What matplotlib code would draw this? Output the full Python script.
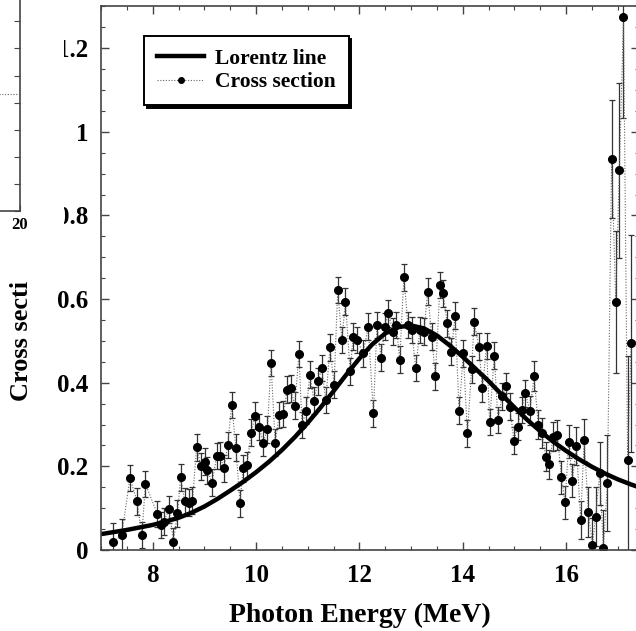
import matplotlib.pyplot as plt
from matplotlib.lines import Line2D
from matplotlib.patches import Rectangle
from matplotlib.ticker import MultipleLocator

#Lorentz fit
fit_energy = [7.0, 7.25, 7.5, 7.75, 8.0, 8.25, 8.5, 8.75, 9.0, 9.25, 9.5, 9.75,
              10.0, 10.25, 10.5, 10.75, 11.0, 11.25, 11.5, 11.75, 12.0, 12.25, 12.5,
              12.75, 13.0, 13.25, 13.5, 13.75, 14.0, 14.25, 14.5, 14.75, 15.0, 15.25,
              15.5, 15.75, 16.0, 16.25, 16.5, 16.75, 17.0, 17.25, 17.41]
fit_cross = [0.038, 0.043, 0.048, 0.054, 0.060, 0.068, 0.077, 0.089, 0.104, 0.122,
             0.142, 0.163, 0.186, 0.211, 0.239, 0.270, 0.304, 0.341, 0.380, 0.420,
             0.458, 0.492, 0.518, 0.533, 0.537, 0.530, 0.513, 0.489, 0.462, 0.433,
             0.404, 0.372, 0.341, 0.311, 0.284, 0.259, 0.237, 0.217, 0.199, 0.183,
             0.169, 0.157, 0.150]

#Measured cross section with errors
energy = [7.24, 7.40, 7.56, 7.70, 7.79, 7.86, 8.09, 8.17, 8.21, 8.32, 8.40, 8.48,
          8.54, 8.62, 8.71, 8.77, 8.85, 8.93, 9.01, 9.06, 9.15, 9.24, 9.30, 9.38,
          9.45, 9.53, 9.61, 9.69, 9.75, 9.82, 9.91, 9.98, 10.06, 10.14, 10.22, 10.29,
          10.37, 10.45, 10.53, 10.60, 10.67, 10.75, 10.83, 10.89, 10.97, 11.04, 11.12,
          11.20, 11.27, 11.35, 11.43, 11.51, 11.58, 11.66, 11.73, 11.82, 11.88, 11.96,
          12.07, 12.17, 12.27, 12.34, 12.42, 12.49, 12.56, 12.65, 12.71, 12.78, 12.86,
          12.94, 13.01, 13.09, 13.17, 13.25, 13.32, 13.40, 13.47, 13.56, 13.62, 13.70,
          13.78, 13.85, 13.93, 14.01, 14.09, 14.17, 14.22, 14.31, 14.38, 14.46, 14.52,
          14.61, 14.68, 14.76, 14.83, 14.91, 14.99, 15.06, 15.14, 15.21, 15.30, 15.38,
          15.46, 15.53, 15.61, 15.67, 15.75, 15.83, 15.91, 15.98, 16.05, 16.12, 16.20,
          16.28, 16.35, 16.43, 16.51, 16.57, 16.65, 16.72, 16.80, 16.88, 16.96, 17.03,
          17.11, 17.19, 17.26]
cross = [0.020, 0.035, 0.172, 0.116, 0.036, 0.158, 0.086, 0.060, 0.068, 0.097, 0.020, 0.088,
         0.174, 0.116, 0.113, 0.118, 0.246, 0.200, 0.211, 0.191, 0.161, 0.225, 0.226, 0.195,
         0.251, 0.347, 0.245, 0.112, 0.195, 0.203, 0.281, 0.321, 0.294, 0.257, 0.289, 0.447,
         0.257, 0.323, 0.325, 0.383, 0.387, 0.345, 0.469, 0.299, 0.333, 0.419, 0.357,
         0.403, 0.435, 0.359, 0.485, 0.395, 0.622, 0.502, 0.594, 0.427, 0.510, 0.502,
         0.470, 0.534, 0.327, 0.538, 0.460, 0.534, 0.566, 0.522, 0.538, 0.455, 0.652,
         0.538, 0.526, 0.435, 0.526, 0.522, 0.618, 0.510, 0.415, 0.634, 0.614, 0.542,
         0.474, 0.560, 0.333, 0.470, 0.279, 0.432, 0.546, 0.486, 0.387, 0.488, 0.306,
         0.465, 0.311, 0.368, 0.392, 0.343, 0.261, 0.295, 0.335, 0.375, 0.333, 0.416,
         0.300, 0.280, 0.223, 0.205, 0.271, 0.275, 0.174, 0.114, 0.259, 0.166, 0.249,
         0.072, 0.263, 0.090, 0.012, 0.080, 0.183, 0.005, 0.160, 0.935, 0.594, 0.908,
         1.274, 0.215, 0.494]
cross_err = [0.045, 0.040] + [0.032]*98 + [0.035]*8 + [0.040, 0.040, 0.040, 0.040, 0.045,
             0.045, 0.050, 0.060, 0.065, 0.070, 0.076, 0.090, 0.115, 0.140, 0.170,
             0.210, 0.240, 0.250, 0.260]

xticks = [8, 10, 12, 14, 16]
yticks = [0, 0.2, 0.4, 0.6, 0.8, 1.0, 1.2]
ytick_labels = ['0', '0.2', '0.4', '0.6', '0.8', '1', '1.2']

plt.rcParams['font.family'] = ['Liberation Serif', 'DejaVu Serif']
plt.rcParams['font.weight'] = 'bold'

W, H = 636, 631
fig = plt.figure(figsize=(W/100, H/100), dpi=100)

#pixel box -> figure coords
def box(x0, y0, x1, y1):
    return [x0/W, 1-y1/H, (x1-x0)/W, (y1-y0)/H]

ax = fig.add_axes(box(101, 6, 639, 550))
ax.errorbar(energy, cross, yerr=cross_err, fmt='none', ecolor='#333',
            elinewidth=0.9, capsize=2.5, capthick=0.9)
ax.plot(energy, cross, linestyle=(0, (1, 1.5)), color='#666', lw=0.8)
ax.plot(energy, cross, 'o', color='k', ms=5.5)
ax.plot(fit_energy, fit_cross, '-k', lw=3.2, solid_capstyle='round')

ax.set_xlim(7, 17.41)
ax.set_ylim(0, 1.301)
ax.set_xticks(xticks)
ax.set_xticklabels([str(t) for t in xticks])
ax.set_yticks(yticks)
ax.set_yticklabels(ytick_labels)
ax.xaxis.set_minor_locator(MultipleLocator(0.5))
ax.yaxis.set_minor_locator(MultipleLocator(0.05))
ax.tick_params(which='both', direction='in', top=True, right=True, color='#444',
               labelsize=18)
ax.tick_params(which='major', length=6, width=1.0)
ax.tick_params(which='minor', length=3, width=0.8)
ax.tick_params(axis='y', pad=9)
ax.tick_params(axis='x', pad=10)
for s in ax.spines.values():
    s.set_color('#444')
    s.set_linewidth(1.2)

fig.text(360/W, 1-622/H, 'Photon Energy (MeV)', ha='center', va='baseline',
         fontsize=20, fontweight='bold')
fig.text(22/W, 1-401/H, 'Cross secti', rotation=90, ha='center', va='bottom',
         fontsize=19, fontweight='bold')

#Legend with shadow
handles = [Line2D([], [], color='k', lw=3.2),
           Line2D([], [], color='#666', lw=0.8, linestyle=(0, (1, 1.5)),
                  marker='o', ms=4, mfc='k', mec='k')]
leg = ax.legend(handles, ['Lorentz line', 'Cross section'], loc='upper left',
                bbox_to_anchor=(0.0799, 0.945), borderaxespad=0, fontsize=15.5,
                handlelength=2.2, handletextpad=0.5, labelspacing=0.15,
                borderpad=0.6, fancybox=False, framealpha=1,
                shadow={'color': 'k', 'alpha': 1})
leg.get_frame().set_edgecolor('k')
leg.get_frame().set_linewidth(1.4)

#Neighbouring panel, only its corner is in the picture
left_line = 0.433
lp = fig.add_axes(box(-150, -60, 20, 211))
lp.set_xlim(0, 20)
lp.set_ylim(0, 1)
lp.set_xticks([20])
lp.set_xticklabels(['20'])
lp.set_yticks([i/10 for i in range(11)])
lp.set_yticklabels([])
lp.yaxis.tick_right()
lp.tick_params(direction='in', length=4, color='#444', labelsize=12, pad=4)
lp.axhline(left_line, color='#666', lw=0.8, linestyle=(0, (1, 1.5)))
for s in lp.spines.values():
    s.set_color('#444')
    s.set_linewidth(1.2)

#scan edge that hides the left part of some labels
fig.add_artist(Rectangle((35/W, 1-290/H), 29/W, 290/H, transform=fig.transFigure,
                         facecolor='white', edgecolor='none', zorder=5))

fig.savefig('out.png', dpi=100)
